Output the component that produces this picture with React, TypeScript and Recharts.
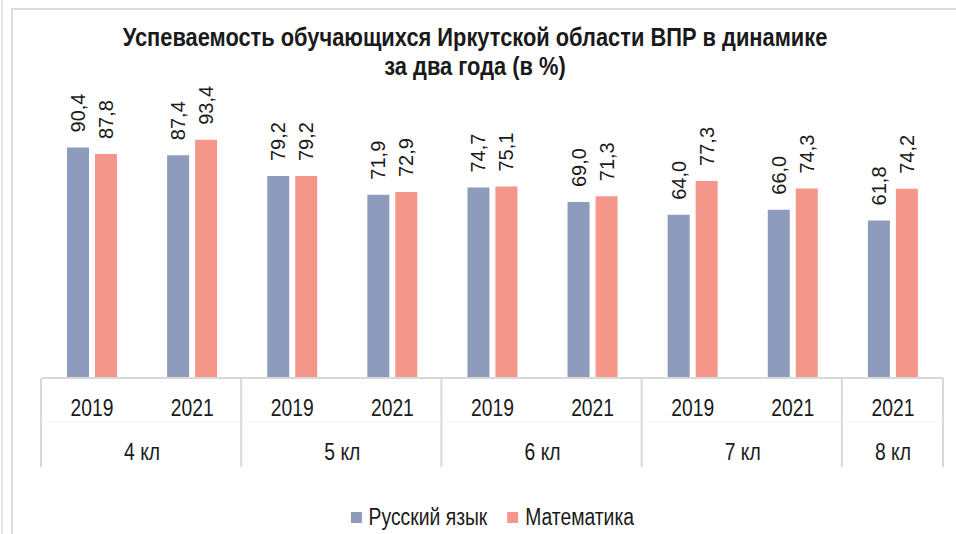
import React from "react";
import { BarChart, Bar, XAxis, YAxis, LabelList, Legend } from "recharts";

const YEARS = ["2019", "2021", "2019", "2021", "2019", "2021", "2019", "2021", "2021"];
const GRADES = ["4 кл", "4 кл", "5 кл", "5 кл", "6 кл", "6 кл", "7 кл", "7 кл", "8 кл"];
const RUSSIAN = [90.4, 87.4, 79.2, 71.9, 74.7, 69.0, 64.0, 66.0, 61.8];
const MATH = [87.8, 93.4, 79.2, 72.9, 75.1, 71.3, 77.3, 74.3, 74.2];
const Y_DOMAIN = [0, 100];

const W = 956;
const H = 534;
const MARGIN = { top: 123, right: 13, left: 42, bottom: 36 };
const AXIS_H = 90;
const BAND = (W - MARGIN.left - MARGIN.right) / YEARS.length;

// no narrow font installed, so squeeze the regular one
const SANS = "'Liberation Sans', Arial, sans-serif";
const SQUEEZE = 0.84;
const BLUE = "#8f9bbd";
const SALMON = "#f4978a";
const GRID = "#d9d9d9";
const INK = "#1a1a1a";

const data = YEARS.map((year, i) => ({
  key: `${GRADES[i]} ${year}`,
  russian: RUSSIAN[i],
  math: MATH[i],
}));

function NarrowText({ x, y, children }: { x: number; y: number; children: React.ReactNode }) {
  return (
    <text
      transform={`translate(${x} ${y}) scale(${SQUEEZE} 1)`}
      textAnchor="middle"
      fontFamily={SANS}
      fontSize={23}
      fill={INK}
    >
      {children}
    </text>
  );
}

function GroupTick(props: any) {
  const { x, y, payload } = props;
  const i = props.index ?? payload.index;
  const grade = GRADES[i];
  const first = i === 0 || GRADES[i - 1] !== grade;
  let span = 1;
  while (i + span < GRADES.length && GRADES[i + span] === grade) span++;
  const isLast = i === GRADES.length - 1;
  return (
    <g>
      <line x1={x - BAND / 2} x2={x + BAND / 2} y1={y + 44} y2={y + 44} stroke="#f3f3f3" />
      <NarrowText x={x} y={y + 38}>{YEARS[i]}</NarrowText>
      {first && <NarrowText x={x + ((span - 1) * BAND) / 2} y={y + 82}>{grade}</NarrowText>}
      {first && (
        <line x1={x - BAND / 2 - 1} x2={x - BAND / 2 - 1} y1={y} y2={y + 89} stroke={GRID} strokeWidth={2} />
      )}
      {isLast && <line x1={x + BAND / 2} x2={x + BAND / 2} y1={y} y2={y + 89} stroke={GRID} strokeWidth={2} />}
    </g>
  );
}

function ValueLabel(props: any) {
  const { x, y, width, value } = props;
  const cx = Number(x) + Number(width) / 2;
  const top = Number(y) - 15;
  return (
    <text
      x={cx}
      y={top}
      transform={`rotate(-90 ${cx} ${top})`}
      textAnchor="start"
      dominantBaseline="central"
      fontFamily={SANS}
      fontSize={20}
      fill={INK}
    >
      {Number(value).toFixed(1).replace(".", ",")}
    </text>
  );
}

function LegendContent() {
  const items = [
    { name: "Русский язык", color: BLUE },
    { name: "Математика", color: SALMON },
  ];
  return (
    <div
      style={{
        display: "flex",
        justifyContent: "center",
        alignItems: "center",
        gap: 24,
        fontFamily: SANS,
        fontSize: 23,
        color: INK,
        transform: `scaleX(${SQUEEZE})`,
        transformOrigin: "center",
      }}
    >
      {items.map((it) => (
        <div key={it.name} style={{ display: "flex", alignItems: "center", gap: 8 }}>
          <span style={{ display: "inline-block", width: 13, height: 11, background: it.color }} />
          <span>{it.name}</span>
        </div>
      ))}
    </div>
  );
}

export default function App() {
  return (
    <div style={{ position: "absolute", left: 0, top: 0, width: W, height: H, overflow: "hidden", background: "#fff" }}>
      <div style={{ position: "absolute", left: 1, top: 0, width: 0, height: H, borderLeft: "2px solid #e3e3e3" }} />
      <div style={{ position: "absolute", left: 11, top: 8, width: W + 20, height: H + 20, border: "2px solid #dcdcdc" }} />
      <div
        style={{
          position: "absolute",
          left: 0,
          top: 23,
          width: 950,
          textAlign: "center",
          fontFamily: SANS,
          fontWeight: "bold",
          fontSize: 26,
          lineHeight: "29px",
          color: INK,
          transform: `scaleX(${SQUEEZE})`,
          transformOrigin: "475px 0",
        }}
      >
        Успеваемость обучающихся Иркутской области ВПР в динамике
        <br />
        за два года (в %)
      </div>
      <div style={{ position: "absolute", left: 0, top: 0 }}>
        <BarChart width={W} height={H} data={data} margin={MARGIN} barSize={22} barGap={6}>
          <XAxis
            dataKey="key"
            height={AXIS_H}
            interval={0}
            tickLine={false}
            tickSize={0}
            tickMargin={0}
            axisLine={{ stroke: GRID, strokeWidth: 2 }}
            tick={<GroupTick />}
          />
          <YAxis hide domain={Y_DOMAIN} />
          <Legend verticalAlign="bottom" wrapperStyle={{ bottom: 0, height: 30 }} content={<LegendContent />} />
          <Bar dataKey="russian" name="Русский язык" fill={BLUE} isAnimationActive={false}>
            <LabelList dataKey="russian" content={<ValueLabel />} />
          </Bar>
          <Bar dataKey="math" name="Математика" fill={SALMON} isAnimationActive={false}>
            <LabelList dataKey="math" content={<ValueLabel />} />
          </Bar>
        </BarChart>
      </div>
    </div>
  );
}
